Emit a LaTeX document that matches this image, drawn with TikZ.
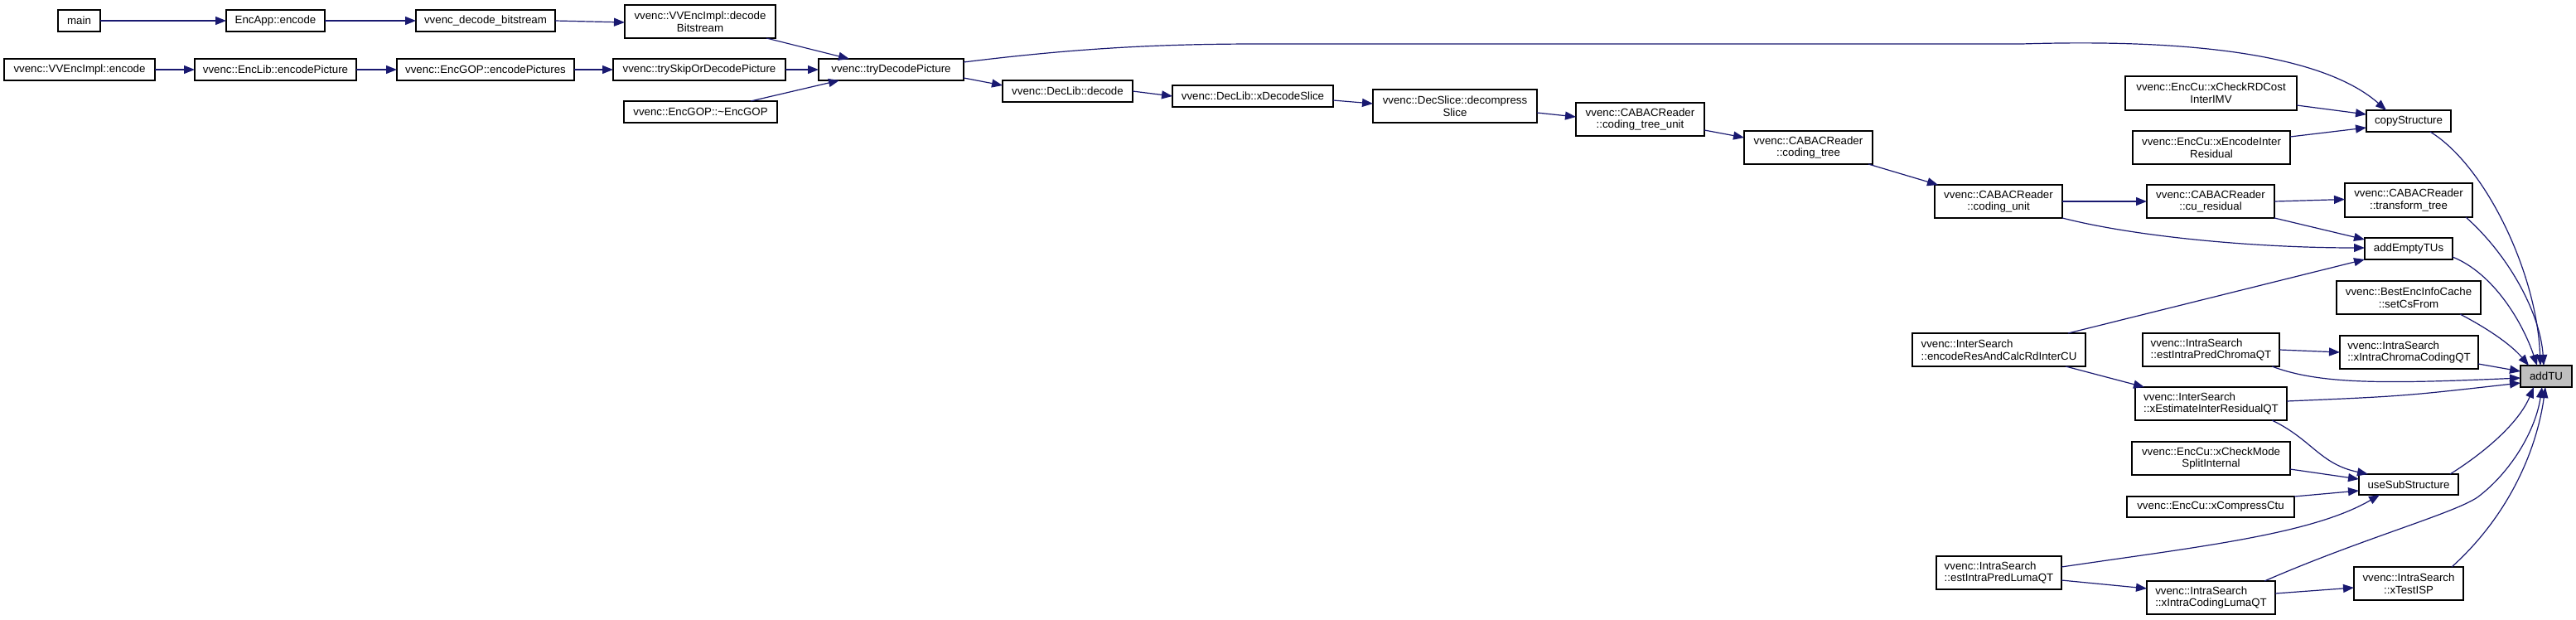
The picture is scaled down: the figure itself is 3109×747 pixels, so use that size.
\documentclass[tikz,border=0pt]{standalone}
\usepackage{fontspec}
\setmainfont{Liberation Sans}
\usepackage{tikz}
\usetikzlibrary{arrows.meta,positioning}
\definecolor{edgeblue}{HTML}{191970}
\definecolor{hlgray}{HTML}{BFBFBF}
\tikzset{
  fnbox/.style={draw=black, line width=1.3pt, fill=white, anchor=north west,
    inner sep=3pt, outer sep=0pt, align=center,
    font=\fontsize{13.3pt}{14.6pt}\selectfont},
  leftbox/.style={fnbox, align=left},
  hlbox/.style={fnbox, fill=hlgray},
  arr/.style={-{Triangle[length=13pt,width=10pt]}, line width=1.2pt, draw=edgeblue}
}

\begin{document}
\begin{tikzpicture}[x=1pt, y=-1pt]
    \useasboundingbox (0,0) rectangle (3109,747);
    % callers on the left
    \node[fnbox, minimum width=51pt, minimum height=26pt] (main) at (70,12) {main};
    \node[fnbox, minimum width=119pt, minimum height=26pt] (encapp) at (273,12) {EncApp::encode};
    \node[fnbox, minimum width=168pt, minimum height=26pt] (decbs) at (502,12) {vvenc\_decode\_bitstream};
    \node[fnbox, minimum width=182pt, minimum height=40pt] (implDec) at (754,6) {vvenc::VVEncImpl::decode\\Bitstream};
    \node[fnbox, minimum width=182pt, minimum height=26pt] (implEnc) at (5,71) {vvenc::VVEncImpl::encode};
    \node[fnbox, minimum width=195pt, minimum height=26pt] (encPic) at (235,71) {vvenc::EncLib::encodePicture};
    \node[fnbox, minimum width=214pt, minimum height=26pt] (encPics) at (479,71) {vvenc::EncGOP::encodePictures};
    \node[fnbox, minimum width=208pt, minimum height=26pt] (trySkip) at (740,71) {vvenc::trySkipOrDecodePicture};
    \node[fnbox, minimum width=185pt, minimum height=26pt] (gopDtor) at (753,122) {vvenc::EncGOP::\textasciitilde EncGOP};
    \node[fnbox, minimum width=175pt, minimum height=26pt] (tryDec) at (988,71) {vvenc::tryDecodePicture};
    % decoder chain
    \node[fnbox, minimum width=157pt, minimum height=26pt] (decLib) at (1210,97) {vvenc::DecLib::decode};
    \node[fnbox, minimum width=194pt, minimum height=26pt] (xDecSlice) at (1415,103) {vvenc::DecLib::xDecodeSlice};
    \node[fnbox, minimum width=198pt, minimum height=40pt] (decompress) at (1657,108) {vvenc::DecSlice::decompress\\Slice};
    \node[fnbox, minimum width=155pt, minimum height=40pt] (ctu) at (1902,124) {vvenc::CABACReader\\::coding\_tree\_unit};
    \node[fnbox, minimum width=155pt, minimum height=40pt] (ctree) at (2105,158) {vvenc::CABACReader\\::coding\_tree};
    \node[fnbox, minimum width=154pt, minimum height=40pt] (cunit) at (2335,223) {vvenc::CABACReader\\::coding\_unit};
    \node[fnbox, minimum width=154pt, minimum height=40pt] (cures) at (2591,223) {vvenc::CABACReader\\::cu\_residual};
    \node[fnbox, minimum width=154pt, minimum height=41pt] (ttree) at (2830,221) {vvenc::CABACReader\\::transform\_tree};
    % encoder side
    \node[fnbox, minimum width=102pt, minimum height=26pt] (copyS) at (2856,133) {copyStructure};
    \node[fnbox, minimum width=207pt, minimum height=41pt] (rdImv) at (2565,92) {vvenc::EncCu::xCheckRDCost\\InterIMV};
    \node[fnbox, minimum width=190pt, minimum height=40pt] (encRes) at (2574,158) {vvenc::EncCu::xEncodeInter\\Residual};
    \node[fnbox, minimum width=106pt, minimum height=26pt] (addE) at (2854,287) {addEmptyTUs};
    \node[fnbox, minimum width=174pt, minimum height=40pt] (setCs) at (2820,339) {vvenc::BestEncInfoCache\\::setCsFrom};
    \node[leftbox, minimum width=209pt, minimum height=40pt] (encodeRes) at (2308,402) {vvenc::InterSearch\\::encodeResAndCalcRdInterCU};
    \node[leftbox, minimum width=165pt, minimum height=40pt] (estChroma) at (2586,402) {vvenc::IntraSearch\\::estIntraPredChromaQT};
    \node[leftbox, minimum width=167pt, minimum height=40pt] (xChroma) at (2824,405) {vvenc::IntraSearch\\::xIntraChromaCodingQT};
    \node[hlbox, minimum width=62pt, minimum height=26pt] (addTU) at (3042,441) {addTU};
    \node[leftbox, minimum width=183pt, minimum height=40pt] (xEstInter) at (2577,467) {vvenc::InterSearch\\::xEstimateInterResidualQT};
    \node[fnbox, minimum width=191pt, minimum height=40pt] (splitInt) at (2573,533) {vvenc::EncCu::xCheckMode\\SplitInternal};
    \node[fnbox, minimum width=120pt, minimum height=25pt] (useSub) at (2847,572) {useSubStructure};
    \node[fnbox, minimum width=202pt, minimum height=25pt] (compress) at (2567,599) {vvenc::EncCu::xCompressCtu};
    \node[leftbox, minimum width=151pt, minimum height=40pt] (estLuma) at (2337,671) {vvenc::IntraSearch\\::estIntraPredLumaQT};
    \node[leftbox, minimum width=155pt, minimum height=40pt] (xLuma) at (2591,701) {vvenc::IntraSearch\\::xIntraCodingLumaQT};
    \node[fnbox, minimum width=132pt, minimum height=40pt] (xISP) at (2841,684) {vvenc::IntraSearch\\::xTestISP};
    % edges
    \draw[arr] (main.east) -- (encapp.west);
    \draw[arr] (encapp.east) -- (decbs.west);
    \draw[arr] (decbs.east) -- ([yshift=-1pt]implDec.west);
    \draw[arr] ([xshift=-11pt]implDec.south east) -- ([xshift=37pt]tryDec.north west);
    \draw[arr] (implEnc.east) -- (encPic.west);
    \draw[arr] (encPic.east) -- (encPics.west);
    \draw[arr] (encPics.east) -- (trySkip.west);
    \draw[arr] (trySkip.east) -- (tryDec.west);
    \draw[arr] ([xshift=-32pt]gopDtor.north east) -- ([xshift=25pt]tryDec.south west);
    \draw[arr] ([yshift=-10pt]tryDec.east) -- ([yshift=7pt]decLib.west);
    \draw[arr] (decLib.east) -- (xDecSlice.west);
    \draw[arr] ([yshift=-5pt]xDecSlice.east) -- ([yshift=3pt]decompress.west);
    \draw[arr] ([yshift=-8pt]decompress.east) -- ([yshift=3pt]ctu.west);
    \draw[arr] ([yshift=-13pt]ctu.east) -- ([yshift=12pt]ctree.west);
    \draw[arr] ([xshift=-5pt]ctree.south east) -- ([xshift=4pt]cunit.north west);
    \draw[arr] (cunit.east) -- (cures.west);
    \draw[arr] (cures.east) -- ([yshift=1pt]ttree.west);
    \draw[arr] (cunit.south east) .. controls +(90,23) and +(-130,0) .. ([yshift=1pt]addE.west);
    \draw[arr] (cures.south east) -- ([yshift=-2pt]addE.north west);
    \draw[arr] ([yshift=-4pt]tryDec.north east) .. controls (1300,58) and (1400,53) .. (1520,53)
      -- (2440,53) .. controls (2700,45) and (2820,80) .. ([xshift=24pt]copyS.north west);
    \draw[arr] ([yshift=6pt]rdImv.south east) -- ([yshift=-5pt]copyS.north west);
    \draw[arr] ([yshift=-7pt]encRes.north east) -- ([yshift=5pt]copyS.south west);
    \draw[arr] ([xshift=-25pt]copyS.south east) .. controls (3000,200) and (3062,330) .. ([xshift=24pt]addTU.north west);
    \draw[arr] ([xshift=-8pt]ttree.south east) .. controls (3030,310) and (3066,380) .. ([xshift=28pt]addTU.north west);
    \draw[arr] ([yshift=3pt]addE.south east) .. controls (3010,330) and (3045,390) .. ([xshift=20pt]addTU.north west);
    \draw[arr] ([xshift=-25pt]setCs.south east) .. controls (3000,395) and (3030,415) .. ([xshift=10pt]addTU.north west);
    \draw[arr] (estChroma.east) -- (xChroma.west);
    \draw[arr] ([yshift=6pt]xChroma.south east) -- ([yshift=6pt]addTU.west);
    \draw[arr] ([xshift=-9pt]estChroma.south east) .. controls (2800,464) and (2880,463) .. ([yshift=-2pt]addTU.west);
    \draw[arr] ([xshift=-21pt]encodeRes.north east) -- (addE.south west);
    \draw[arr] ([xshift=-24pt]encodeRes.south east) -- ([xshift=11pt]xEstInter.north west);
    \draw[arr] ([yshift=3pt]xEstInter.east) .. controls (2900,478) .. ([yshift=-8pt]addTU.west);
    \draw[arr] ([xshift=-18pt]xEstInter.south east) .. controls (2790,530) and (2800,560) .. ([xshift=11pt]useSub.north west);
    \draw[arr] ([yshift=7pt]splitInt.south east) -- ([yshift=-6pt]useSub.north west);
    \draw[arr] (compress.north east) -- ([yshift=5pt]useSub.south west);
    \draw[arr] ([yshift=-13pt]estLuma.north east) .. controls (2650,660) and (2790,645) .. ([xshift=25pt]useSub.south west);
    \draw[arr] ([yshift=-9pt]estLuma.east) -- ([yshift=11pt]xLuma.west);
    \draw[arr] ([yshift=5pt]xLuma.east) -- ([yshift=-5pt]xISP.west);
    \draw[arr] ([xshift=-10pt]useSub.north east) .. controls (3000,545) and (3040,510) .. ([xshift=16pt]addTU.south west);
    \draw[arr] ([xshift=-13pt]xLuma.north east) .. controls (2850,650) and (2960,620) .. (2990,600)
      .. controls (3030,570) and (3060,520) .. ([xshift=26pt]addTU.south west);
    \draw[arr] ([xshift=-14pt]xISP.north east) .. controls (3030,620) and (3062,540) .. ([xshift=30pt]addTU.south west);
\end{tikzpicture}
\end{document}
